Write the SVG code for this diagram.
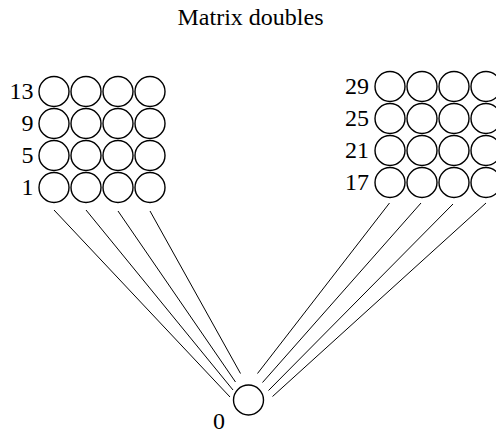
<svg xmlns="http://www.w3.org/2000/svg" width="496" height="434" viewBox="0 0 496 434">
<style>
text{font-family:"Liberation Serif","Times New Roman",serif;font-size:24px;fill:#000}
.n{fill:none;stroke:#000;stroke-width:1.4}
.lbl{text-anchor:end}
#edges line{stroke:#000;stroke-width:1}
</style>
<rect width="496" height="434" fill="#fff"/>
<text x="250.5" y="25" text-anchor="middle">Matrix doubles</text>
<g id="edges">
<line x1="54" y1="210" x2="230" y2="397"/>
<line x1="86" y1="210" x2="233" y2="390"/>
<line x1="118" y1="211" x2="235.5" y2="382"/>
<line x1="150" y1="211" x2="240.5" y2="373.5"/>
<line x1="389.5" y1="203" x2="257.5" y2="373.5"/>
<line x1="421" y1="203" x2="262.5" y2="382.5"/>
<line x1="453" y1="204" x2="268.5" y2="390.5"/>
<line x1="486" y1="203" x2="272.5" y2="396.5"/>
</g>
<g id="n13"><text class="lbl" x="33.5" y="99">13</text><circle class="n" cx="54" cy="91.5" r="15"/></g>
<g id="n14"><circle class="n" cx="86" cy="91.5" r="15"/></g>
<g id="n15"><circle class="n" cx="118" cy="91.5" r="15"/></g>
<g id="n16"><circle class="n" cx="150" cy="91.5" r="15"/></g>
<g id="n9"><text class="lbl" x="33.5" y="131">9</text><circle class="n" cx="54" cy="123.5" r="15"/></g>
<g id="n10"><circle class="n" cx="86" cy="123.5" r="15"/></g>
<g id="n11"><circle class="n" cx="118" cy="123.5" r="15"/></g>
<g id="n12"><circle class="n" cx="150" cy="123.5" r="15"/></g>
<g id="n5"><text class="lbl" x="33.5" y="163">5</text><circle class="n" cx="54" cy="155.5" r="15"/></g>
<g id="n6"><circle class="n" cx="86" cy="155.5" r="15"/></g>
<g id="n7"><circle class="n" cx="118" cy="155.5" r="15"/></g>
<g id="n8"><circle class="n" cx="150" cy="155.5" r="15"/></g>
<g id="n1"><text class="lbl" x="33.5" y="195">1</text><circle class="n" cx="54" cy="187.5" r="15"/></g>
<g id="n2"><circle class="n" cx="86" cy="187.5" r="15"/></g>
<g id="n3"><circle class="n" cx="118" cy="187.5" r="15"/></g>
<g id="n4"><circle class="n" cx="150" cy="187.5" r="15"/></g>
<g id="n29"><text class="lbl" x="369" y="94">29</text><circle class="n" cx="390" cy="86.5" r="15"/></g>
<g id="n30"><circle class="n" cx="422" cy="86.5" r="15"/></g>
<g id="n31"><circle class="n" cx="454" cy="86.5" r="15"/></g>
<g id="n32"><circle class="n" cx="486" cy="86.5" r="15"/></g>
<g id="n25"><text class="lbl" x="369" y="126">25</text><circle class="n" cx="390" cy="118.5" r="15"/></g>
<g id="n26"><circle class="n" cx="422" cy="118.5" r="15"/></g>
<g id="n27"><circle class="n" cx="454" cy="118.5" r="15"/></g>
<g id="n28"><circle class="n" cx="486" cy="118.5" r="15"/></g>
<g id="n21"><text class="lbl" x="369" y="158">21</text><circle class="n" cx="390" cy="150.5" r="15"/></g>
<g id="n22"><circle class="n" cx="422" cy="150.5" r="15"/></g>
<g id="n23"><circle class="n" cx="454" cy="150.5" r="15"/></g>
<g id="n24"><circle class="n" cx="486" cy="150.5" r="15"/></g>
<g id="n17"><text class="lbl" x="369" y="190">17</text><circle class="n" cx="390" cy="182.5" r="15"/></g>
<g id="n18"><circle class="n" cx="422" cy="182.5" r="15"/></g>
<g id="n19"><circle class="n" cx="454" cy="182.5" r="15"/></g>
<g id="n20"><circle class="n" cx="486" cy="182.5" r="15"/></g>
<g id="n0"><circle class="n" cx="248.5" cy="400" r="15"/><text x="219" y="429" text-anchor="middle">0</text></g>
</svg>
